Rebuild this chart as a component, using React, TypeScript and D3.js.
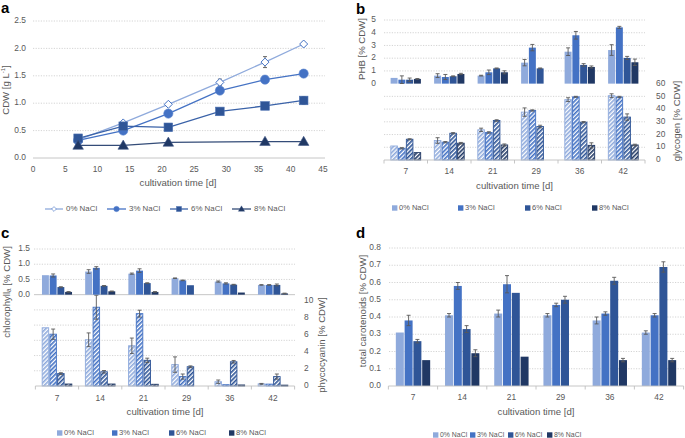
import React from 'react';
import * as d3 from 'd3';

// ---------- shared categories ----------
const days = ['7', '14', '21', '29', '36', '42'];
const seriesNames = ['0% NaCl', '3% NaCl', '6% NaCl', '8% NaCl'];
const colors = ['#8FAADC', '#4472C4', '#2F5597', '#203864'];

// ---------- panel a: CDW [g/L] ----------
const cdwDays = [7, 14, 21, 29, 36, 42];
const cdw0 = [0.33, 0.64, 0.98, 1.38, 1.75, 2.08];
const cdw3 = [0.32, 0.5, 0.81, 1.23, 1.43, 1.54];
const cdw6 = [0.36, 0.58, 0.56, 0.85, 0.95, 1.05];
const cdw8 = [0.23, 0.23, 0.285, null, 0.3, 0.3];
const cdw0Err = [0.01, 0.02, 0.03, 0.06, 0.1, 0.03];
const cdw3Err = [0.01, 0.03, 0.03, 0.06, 0.03, 0.06];
const cdw6Err = [0.02, 0.02, 0.02, 0.04, 0.02, 0.07];
const cdw8Err = [0.01, 0.01, 0.01, 0, 0.01, 0.01];
const xTicksA = [0, 5, 10, 15, 20, 25, 30, 35, 40, 45];
const yTicksA = [0, 0.5, 1.0, 1.5, 2.0, 2.5];

// ---------- panel b: PHB and glycogen [% CDW] ----------
const phb0 = [0.45, 0.63, 0.63, 1.65, 2.51, 2.64];
const phb3 = [0.31, 0.52, 0.89, 2.83, 3.8, 4.42];
const phb6 = [0.31, 0.58, 1.2, 1.2, 1.47, 2.02];
const phb8 = [0.37, 0.76, 0.89, null, 1.31, 1.68];
const phb0Err = [0, 0.15, 0.03, 0.25, 0.3, 0.42];
const phb3Err = [0.3, 0.2, 0.18, 0.25, 0.3, 0.08];
const phb6Err = [0.13, 0.03, 0.03, 0.03, 0.1, 0.12];
const phb8Err = [0.03, 0.05, 0.12, 0, 0.08, 0.25];
const gly0 = [11.0, 15.3, 23.7, 37.6, 47.4, 50.5];
const gly3 = [9.2, 14.0, 21.6, 38.9, 49.6, 49.5];
const gly6 = [16.3, 21.0, 31.0, 26.3, 29.7, 33.7];
const gly8 = [5.8, 13.2, 11.8, null, 11.5, 11.8];
const gly0Err = [0, 2.2, 1.3, 3.3, 1.5, 1.5];
const gly3Err = [0.5, 0.5, 0.6, 0.5, 0.4, 0.5];
const gly6Err = [0.4, 0.5, 0.6, 1.0, 0.5, 2.5];
const gly8Err = [0, 0.6, 0.8, 0, 2.0, 0.6];
const phbTicks = [0, 1, 2, 3, 4, 5];
const glyTicks = [0, 10, 20, 30, 40, 50, 60];

// ---------- panel c: chlorophyll a and phycocyanin [% CDW] ----------
const chl0 = [0.64, 0.76, 0.69, 0.54, 0.43, 0.32];
const chl3 = [0.63, 0.88, 0.79, 0.47, 0.37, 0.32];
const chl6 = [0.25, 0.29, 0.38, 0.31, 0.33, 0.32];
const chl8 = [0.09, 0.11, 0.09, null, 0.07, 0.04];
const chl0Err = [0, 0.06, 0.02, 0.01, 0.02, 0.01];
const chl3Err = [0.05, 0.04, 0.06, 0.01, 0.02, 0.01];
const chl6Err = [0.01, 0.01, 0.01, 0, 0.01, 0.03];
const chl8Err = [0.01, 0.01, 0.01, 0, 0, 0.01];
const pc0 = [6.8, 5.4, 4.7, 2.5, 0.5, 0.25];
const pc3 = [6.05, 9.2, 8.45, 1.1, 0.15, 0.22];
const pc6 = [1.45, 1.66, 3.0, 2.25, 2.83, 1.1];
const pc8 = [0.23, 0.23, 0.2, null, 0.12, 0.1];
const pc0Err = [0, 0.8, 0.9, 0.9, 0.2, 0.05];
const pc3Err = [0.6, 1.4, 0.4, 0.3, 0, 0];
const pc6Err = [0.1, 0.15, 0.25, 0.1, 0.15, 0.3];
const pc8Err = [0, 0, 0, 0, 0, 0];
const chlTicks = [0, 0.5, 1.0, 1.5];
const pcTicks = [0, 2, 4, 6, 8, 10];

// ---------- panel d: total carotenoids [% CDW] ----------
const car0 = [0.31, 0.41, 0.42, 0.41, 0.38, 0.31];
const car3 = [0.38, 0.58, 0.59, 0.47, 0.42, 0.41];
const car6 = [0.26, 0.33, 0.54, 0.5, 0.61, 0.69];
const car8 = [0.15, 0.19, 0.17, null, 0.15, 0.15];
const car0Err = [0, 0.01, 0.02, 0.01, 0.02, 0.01];
const car3Err = [0.03, 0.02, 0.05, 0.01, 0.01, 0.01];
const car6Err = [0.01, 0.02, 0, 0.02, 0.02, 0.03];
const car8Err = [0, 0.02, 0, 0, 0.01, 0.01];
const carTicks = [0, 0.1, 0.2, 0.3, 0.4, 0.5, 0.6, 0.7, 0.8];

// ---------- styling ----------
const FONT = "'Liberation Sans', Arial, sans-serif";
const TXT = '#595959';
const GRIDC = '#C9C9C9';
const AXISC = '#BFBFBF';
const ERRC = '#595959';
const TICK_FS = 8.4;
const TITLE_FS = 9.6;

type Arr = (number | null)[];

function GridLines({ ys, x0, x1 }: { ys: number[]; x0: number; x1: number }) {
  return (
    <g>
      {ys.map((y, i) => (
        <line key={i} x1={x0} x2={x1} y1={y} y2={y} stroke={GRIDC} strokeWidth={0.8} strokeDasharray="1.2,1.4" />
      ))}
    </g>
  );
}

function ErrBar({ cx, y1, y2 }: { cx: number; y1: number; y2: number }) {
  return (
    <g stroke={ERRC} strokeWidth={0.9}>
      <line x1={cx} x2={cx} y1={y1} y2={y2} />
      <line x1={cx - 2} x2={cx + 2} y1={y1} y2={y1} />
      <line x1={cx - 2} x2={cx + 2} y1={y2} y2={y2} />
    </g>
  );
}

function Bars({
  x, y, values, errs, patterned,
}: {
  x: d3.ScaleBand<string>;
  y: d3.ScaleLinear<number, number>;
  values: Arr[];
  errs: number[][];
  patterned?: boolean;
}) {
  const bw = x.bandwidth();
  const gw = bw / 1.4;
  const sub = d3.scaleBand<number>().domain([0, 1, 2, 3]).range([(bw - gw) / 2, (bw + gw) / 2]);
  const w = sub.bandwidth();
  const rects: React.ReactNode[] = [];
  const errsN: React.ReactNode[] = [];
  values.forEach((vals, s) => {
    vals.forEach((v, d) => {
      if (v == null) return;
      const x0 = (x(days[d]) as number) + (sub(s) as number);
      const top = y(v);
      const base = y(0);
      if (patterned) {
        rects.push(
          <rect key={`r${s}-${d}`} x={x0 + 0.6} y={top} width={w - 1.2} height={base - top}
            fill={`url(#pat${s})`} stroke={colors[s]} strokeWidth={0.9} />
        );
      } else {
        rects.push(
          <rect key={`r${s}-${d}`} x={x0 + 0.4} y={top} width={w - 0.8} height={base - top} fill={colors[s]} />
        );
      }
      const e = errs[s][d];
      if (e > 0) {
        errsN.push(<ErrBar key={`e${s}-${d}`} cx={x0 + w / 2} y1={y(v + e)} y2={y(Math.max(0, v - e))} />);
      }
    });
  });
  return (
    <g>
      {rects}
      {errsN}
    </g>
  );
}

function CatAxis({ x, y0, labelY, titleY }: { x: d3.ScaleBand<string>; y0: number; labelY: number; titleY: number }) {
  const [r0, r1] = x.range();
  const edges = days.map((d) => x(d) as number).concat([r1]);
  return (
    <g>
      <line x1={r0} x2={r1} y1={y0} y2={y0} stroke={AXISC} strokeWidth={0.9} />
      {edges.map((e, i) => (
        <line key={i} x1={e} x2={e} y1={y0} y2={y0 + 3.5} stroke={AXISC} strokeWidth={0.9} />
      ))}
      {days.map((d) => (
        <text key={d} x={(x(d) as number) + x.bandwidth() / 2} y={labelY} textAnchor="middle"
          dominantBaseline="middle" fontSize={TICK_FS} fill={TXT}>{d}</text>
      ))}
      <text x={(r0 + r1) / 2} y={titleY} textAnchor="middle" dominantBaseline="middle" fontSize={TITLE_FS} fill={TXT}>
        cultivation time [d]
      </text>
    </g>
  );
}

function SquareLegend({ xs, y, fs }: { xs: number[]; y: number; fs: number }) {
  return (
    <g>
      {seriesNames.map((n, i) => (
        <g key={n}>
          <rect x={xs[i]} y={y - 2.7} width={5.4} height={5.4} fill={colors[i]} />
          <text x={xs[i] + 7} y={y} dominantBaseline="middle" fontSize={fs} fill={TXT}>{n}</text>
        </g>
      ))}
    </g>
  );
}

function VTitle({ x, y, children }: { x: number; y: number; children: React.ReactNode }) {
  return (
    <text transform={`translate(${x},${y}) rotate(-90)`} textAnchor="middle" dominantBaseline="middle"
      fontSize={TITLE_FS} fill={TXT}>
      {children}
    </text>
  );
}

function Marker({ kind, cx, cy }: { kind: number; cx: number; cy: number }) {
  if (kind === 0) {
    const r = 4;
    return <path d={`M${cx},${cy - r}L${cx + r},${cy}L${cx},${cy + r}L${cx - r},${cy}Z`} fill="#fff" stroke="#4472C4" strokeWidth={1} />;
  }
  if (kind === 1) return <circle cx={cx} cy={cy} r={4.6} fill="#4472C4" stroke="#5B85D0" strokeWidth={0.6} />;
  if (kind === 2) return <rect x={cx - 4.3} y={cy - 4.3} width={8.6} height={8.6} fill="#2F5597" stroke="#4A6FB0" strokeWidth={0.6} />;
  const p = d3.symbol(d3.symbolTriangle, 48)() as string;
  return <path d={p} transform={`translate(${cx},${cy + 0.8})`} fill="#203864" stroke="#3C5485" strokeWidth={0.6} />;
}

const lineColors = ['#8FAADC', '#4472C4', '#3A62A8', '#344C78'];

function PanelA() {
  const x = d3.scaleLinear().domain([0, 45]).range([33, 323]);
  const y = d3.scaleLinear().domain([0, 2.5]).range([158, 21]);
  const all: Arr[] = [cdw0, cdw3, cdw6, cdw8];
  const allErr = [cdw0Err, cdw3Err, cdw6Err, cdw8Err];
  const line = d3.line<[number, number]>().x((d) => x(d[0])).y((d) => y(d[1]));
  const legX = [[45, 63, 66], [107, 126, 129], [170, 188, 191], [232, 251, 254]];
  return (
    <g>
      <GridLines ys={yTicksA.filter((t) => t > 0).map((t) => y(t))} x0={33} x1={325} />
      <line x1={33} x2={325} y1={y(0)} y2={y(0)} stroke={AXISC} strokeWidth={0.9} />
      {yTicksA.map((t) => (
        <text key={t} x={26} y={y(t)} textAnchor="end" dominantBaseline="middle" fontSize={TICK_FS} fill={TXT}>
          {d3.format('.1f')(t)}
        </text>
      ))}
      {xTicksA.map((t) => (
        <text key={t} x={x(t)} y={170} textAnchor="middle" dominantBaseline="middle" fontSize={TICK_FS} fill={TXT}>{t}</text>
      ))}
      <text x={178} y={183} textAnchor="middle" dominantBaseline="middle" fontSize={TITLE_FS} fill={TXT}>cultivation time [d]</text>
      <VTitle x={6} y={90}>
        CDW [g L<tspan fontSize={6} dy={-3.5}>-1</tspan><tspan dy={3.5}>]</tspan>
      </VTitle>
      {all.map((vals, s) => {
        const pts = vals.map((v, i) => [cdwDays[i], v] as [number, number | null]).filter((p) => p[1] != null) as [number, number][];
        return <path key={`l${s}`} d={line(pts) as string} fill="none" stroke={lineColors[s]} strokeWidth={1.3} />;
      })}
      {all.map((vals, s) => (
        <g key={`m${s}`}>
          {vals.map((v, i) => {
            if (v == null) return null;
            const e = allErr[s][i];
            return (
              <g key={i}>
                {e > 0.015 && <ErrBar cx={x(cdwDays[i])} y1={y(v + e)} y2={y(v - e)} />}
                <Marker kind={s} cx={x(cdwDays[i])} cy={y(v)} />
              </g>
            );
          })}
        </g>
      ))}
      {seriesNames.map((n, i) => (
        <g key={n}>
          <line x1={legX[i][0]} x2={legX[i][1]} y1={209} y2={209} stroke={lineColors[i]} strokeWidth={1.3} />
          <g transform={`translate(${(legX[i][0] + legX[i][1]) / 2},209) scale(0.6)`}>
            <Marker kind={i} cx={0} cy={0} />
          </g>
          <text x={legX[i][2]} y={209} dominantBaseline="middle" fontSize={7.9} fill={TXT}>{n}</text>
        </g>
      ))}
      <text x={1} y={13} fontSize={15} fontWeight="bold" fill="#000">a</text>
    </g>
  );
}

function PanelB() {
  const x = d3.scaleBand<string>().domain(days).range([384, 645]);
  const yP = d3.scaleLinear().domain([-6, 5]).range([160, 20]);
  const yG = d3.scaleLinear().domain([0, 60]).range([160, 83.6]);
  const gridVals = [5, 4, 3, 2, 1, -1, -2, -3, -4, -5];
  return (
    <g>
      <GridLines ys={gridVals.map((v) => yP(v))} x0={384} x1={645} />
      {phbTicks.map((t) => (
        <text key={t} x={376} y={yP(t)} textAnchor="end" dominantBaseline="middle" fontSize={TICK_FS} fill={TXT}>{t}</text>
      ))}
      {glyTicks.map((t) => (
        <text key={t} x={656} y={yG(t)} dominantBaseline="middle" fontSize={TICK_FS} fill={TXT}>{t}</text>
      ))}
      <Bars x={x} y={yP} values={[phb0, phb3, phb6, phb8]} errs={[phb0Err, phb3Err, phb6Err, phb8Err]} />
      <Bars x={x} y={yG} values={[gly0, gly3, gly6, gly8]} errs={[gly0Err, gly3Err, gly6Err, gly8Err]} patterned />
      <CatAxis x={x} y0={160} labelY={172} titleY={186} />
      <VTitle x={362} y={49}>PHB [% CDW]</VTitle>
      <VTitle x={677} y={121}>glycogen [% CDW]</VTitle>
      <SquareLegend xs={[392, 458, 525, 592]} y={208} fs={7.5} />
      <text x={356} y={14} fontSize={15} fontWeight="bold" fill="#000">b</text>
    </g>
  );
}

function PanelC() {
  const x = d3.scaleBand<string>().domain(days).range([35.4, 294.6]);
  const yC = d3.scaleLinear().domain([-3, 1.5]).range([386, 249]);
  const yPc = d3.scaleLinear().domain([0, 16]).range([386, 249]);
  const gridVals = [1.5, 1.0, 0.5, -0.5, -1.0, -1.5, -2.0, -2.5];
  return (
    <g>
      <GridLines ys={gridVals.map((v) => yC(v))} x0={34} x1={295} />
      <line x1={34} x2={295} y1={yC(0)} y2={yC(0)} stroke={AXISC} strokeWidth={0.9} />
      {chlTicks.map((t) => (
        <text key={t} x={30} y={yC(t)} textAnchor="end" dominantBaseline="middle" fontSize={TICK_FS} fill={TXT}>
          {d3.format('.1f')(t)}
        </text>
      ))}
      {pcTicks.map((t) => (
        <text key={t} x={304} y={yPc(t)} dominantBaseline="middle" fontSize={TICK_FS} fill={TXT}>{t}</text>
      ))}
      <Bars x={x} y={yPc} values={[pc0, pc3, pc6, pc8]} errs={[pc0Err, pc3Err, pc6Err, pc8Err]} patterned />
      <Bars x={x} y={yC} values={[chl0, chl3, chl6, chl8]} errs={[chl0Err, chl3Err, chl6Err, chl8Err]} />
      <CatAxis x={x} y0={386} labelY={399} titleY={412} />
      <VTitle x={7} y={292}>
        chlorophyll<tspan fontSize={6.5} dy={2}>a</tspan><tspan dy={-2}> [% CDW]</tspan>
      </VTitle>
      <VTitle x={322} y={345}>phycocyanin [% CDW]</VTitle>
      <SquareLegend xs={[57, 112, 169, 229]} y={433} fs={7.6} />
      <text x={1} y={238} fontSize={15} fontWeight="bold" fill="#000">c</text>
    </g>
  );
}

function PanelD() {
  const x = d3.scaleBand<string>().domain(days).range([388.4, 683.6]);
  const y = d3.scaleLinear().domain([0, 0.8]).range([386, 248]);
  return (
    <g>
      <GridLines ys={carTicks.filter((t) => t > 0).map((t) => y(t))} x0={389} x1={684} />
      {carTicks.map((t) => (
        <text key={t} x={381} y={y(t)} textAnchor="end" dominantBaseline="middle" fontSize={TICK_FS} fill={TXT}>
          {d3.format('.1f')(t)}
        </text>
      ))}
      <Bars x={x} y={y} values={[car0, car3, car6, car8]} errs={[car0Err, car3Err, car6Err, car8Err]} />
      <CatAxis x={x} y0={386} labelY={398} titleY={412} />
      <VTitle x={363} y={311}>total carotenoids [% CDW]</VTitle>
      <SquareLegend xs={[433, 470, 508, 547]} y={435} fs={6.9} />
      <text x={356} y={238} fontSize={15} fontWeight="bold" fill="#000">d</text>
    </g>
  );
}

export default function App() {
  return (
    <svg width={685} height={438} style={{ position: 'absolute', left: 0, top: 0, background: '#fff' }}
      fontFamily={FONT}>
      <defs>
        {colors.map((c, i) => (
          <pattern key={i} id={`pat${i}`} patternUnits="userSpaceOnUse" width={3} height={3}
            patternTransform="rotate(45)">
            <rect width={3} height={3} fill="#fff" />
            <line x1={0.8} x2={0.8} y1={0} y2={3} stroke={c} strokeWidth={1.7} />
          </pattern>
        ))}
      </defs>
      <rect width={685} height={438} fill="#fff" />
      <PanelA />
      <PanelB />
      <PanelC />
      <PanelD />
    </svg>
  );
}
